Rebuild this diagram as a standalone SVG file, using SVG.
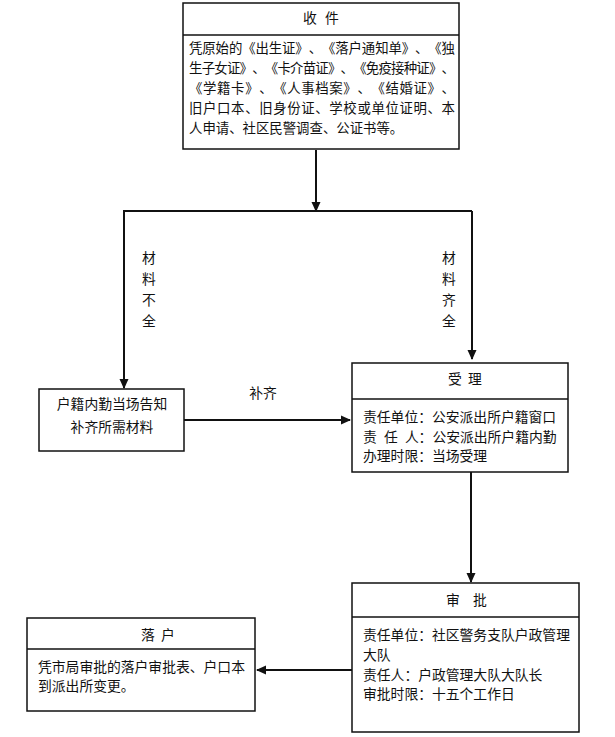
<svg xmlns="http://www.w3.org/2000/svg" width="615" height="737" viewBox="0 0 615 737">
<style>
.box{fill:#fff;stroke:#111;stroke-width:1.5}
.div{stroke:#111;stroke-width:1.5}
.t{font-family:"Noto Sans CJK SC","Noto Sans CJK JP",sans-serif;font-size:13.8px;fill:#111;text-spacing-trim:space-all}
.s{font-size:13.4px}
.c{text-anchor:middle}
.con{fill:none;stroke:#111;stroke-width:2}
</style>
<defs>
<marker id="ah" markerWidth="10" markerHeight="10" refX="9" refY="5" orient="auto" markerUnits="userSpaceOnUse">
<path d="M0,0.5 L10,5 L0,9.5 Z" fill="#111"/>
</marker>
</defs>
<rect width="615" height="737" fill="#fff"/>
<g id="connectors">
<path class="con" d="M316,150 V211" marker-end="url(#ah)"/>
<path class="con" d="M472,211 H124 V388" marker-end="url(#ah)"/>
<path class="con" d="M472,211 V359" marker-end="url(#ah)"/>
<path class="con" d="M184,420 H350" marker-end="url(#ah)"/>
<path class="con" d="M471,472 V582" marker-end="url(#ah)"/>
<path class="con" d="M352,670 H257" marker-end="url(#ah)"/>
<text class="t c" x="149" y="263">材</text>
<text class="t c" x="149" y="284">料</text>
<text class="t c" x="149" y="305">不</text>
<text class="t c" x="149" y="326">全</text>
<text class="t c" x="449" y="263">材</text>
<text class="t c" x="449" y="284">料</text>
<text class="t c" x="449" y="305">齐</text>
<text class="t c" x="449" y="326">全</text>
<text class="t c" x="263" y="398">补齐</text>
</g>
<g id="shoujian">
<rect class="box" x="183" y="3" width="276" height="146"/>
<line class="div" x1="183" y1="35" x2="459" y2="35"/>
<text class="t c" x="310" y="23">收</text>
<text class="t c" x="332" y="23">件</text>
<text class="t s" x="189" y="53" textLength="266" lengthAdjust="spacing">凭原始的《出生证》、《落户通知单》、《独</text>
<text class="t s" x="189" y="73" textLength="266" lengthAdjust="spacing">生子女证》、《卡介苗证》、《免疫接种证》、</text>
<text class="t s" x="189" y="93" textLength="266" lengthAdjust="spacing">《学籍卡》、《人事档案》、《结婚证》、</text>
<text class="t s" x="189" y="113" textLength="266" lengthAdjust="spacing">旧户口本、旧身份证、学校或单位证明、本</text>
<text class="t s" x="189" y="133">人申请、社区民警调查、公证书等。</text>
</g>
<g id="buqi">
<rect class="box" x="39" y="389" width="145" height="62"/>
<text class="t c" x="112" y="409">户籍内勤当场告知</text>
<text class="t c" x="112" y="432">补齐所需材料</text>
</g>
<g id="shouli">
<rect class="box" x="352" y="363" width="216" height="109"/>
<line class="div" x1="352" y1="399" x2="568" y2="399"/>
<text class="t c" x="455" y="384">受</text>
<text class="t c" x="475" y="384">理</text>
<text class="t" x="363" y="422">责任单位：公安派出所户籍窗口</text>
<text class="t" y="442"><tspan x="363">责</tspan><tspan x="384">任</tspan><tspan x="405">人</tspan><tspan x="418.6">：公安派出所户籍内勤</tspan></text>
<text class="t" x="363" y="461">办理时限：当场受理</text>
</g>
<g id="shenpi">
<rect class="box" x="352" y="583" width="227" height="149"/>
<line class="div" x1="352" y1="617" x2="579" y2="617"/>
<text class="t c" x="453" y="605">审</text>
<text class="t c" x="480" y="605">批</text>
<text class="t" x="363" y="640">责任单位：社区警务支队户政管理</text>
<text class="t" x="363" y="660">大队</text>
<text class="t" x="363" y="680">责任人：户政管理大队大队长</text>
<text class="t" x="363" y="699">审批时限：十五个工作日</text>
</g>
<g id="luohu">
<rect class="box" x="27" y="618" width="228" height="93"/>
<line class="div" x1="27" y1="649" x2="255" y2="649"/>
<text class="t c" x="148" y="640">落</text>
<text class="t c" x="168" y="640">户</text>
<text class="t" x="38" y="672">凭市局审批的落户审批表、户口本</text>
<text class="t" x="38" y="691">到派出所变更。</text>
</g>
</svg>
